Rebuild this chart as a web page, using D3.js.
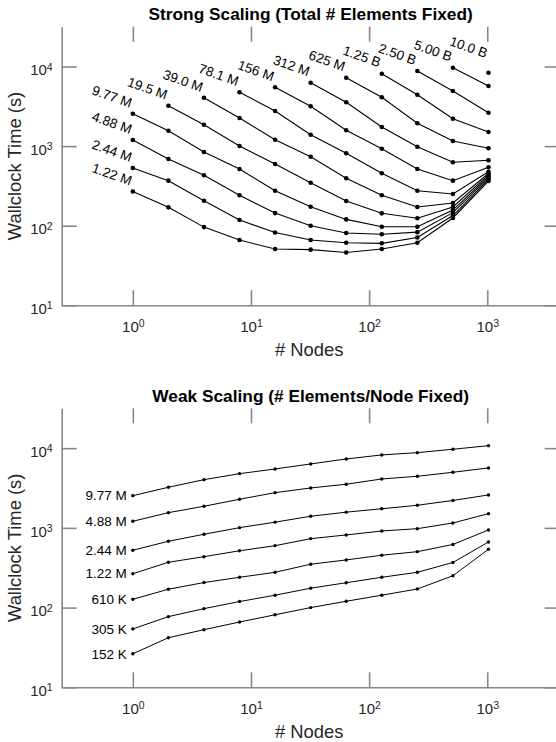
<!DOCTYPE html>
<html>
<head>
<meta charset="utf-8">
<script src="https://cdn.jsdelivr.net/npm/d3@7"></script>
<style>
  html, body { margin: 0; padding: 0; background: #fff; }
  svg { display: block; font-family: "Liberation Sans", Arial, Helvetica, sans-serif; }
</style>
</head>
<body>
<svg id="chart" width="556" height="742"></svg>
<script>
// Node counts shared by both panels
const nodes = [1, 2, 4, 8, 16, 32, 64, 128, 256, 512, 1024];
const xTicks = [1, 10, 100, 1000];
const yTicks = [10, 100, 1000, 10000];

// Strong scaling: total element count, first node count, wallclock seconds from that node count on
const strongLabels = ["1.22 M", "2.44 M", "4.88 M", "9.77 M", "19.5 M", "39.0 M", "78.1 M",
                      "156 M", "312 M", "625 M", "1.25 B", "2.50 B", "5.00 B", "10.0 B"];
const strongStart = [1, 1, 1, 1, 2, 4, 8, 16, 32, 64, 128, 256, 512, 1024];
const strong_1_22M = [269, 170, 96, 66, 51, 50, 46, 51, 61, 125, 364];
const strong_2_44M = [531, 368, 206, 118, 82, 66, 61, 60, 71, 134, 380];
const strong_4_88M = [1194, 689, 430, 241, 144, 100, 81, 78, 83, 146, 397];
const strong_9_77M = [2553, 1561, 843, 516, 275, 173, 120, 97, 97, 157, 415];
const strong_19_5M = [3218, 1857, 1003, 596, 347, 204, 143, 124, 172, 434];
const strong_39_0M = [4055, 2254, 1203, 736, 394, 241, 172, 193, 453];
const strong_78_1M = [4743, 2761, 1390, 812, 455, 275, 250, 477];
const strong_156M = [5478, 3162, 1579, 927, 516, 368, 542];
const strong_312M = [6261, 3548, 1738, 983, 626, 663];
const strong_625M = [7231, 4102, 1933, 1159, 938];
const strong_1_25B = [8120, 4424, 2209, 1503];
const strong_2_50B = [8776, 4921, 2628];
const strong_5_00B = [9660, 5689];
const strong_10_0B = [8358];

// Weak scaling: elements per node, wallclock seconds for every node count
const weakLabels = ["9.77 M", "4.88 M", "2.44 M", "1.22 M", "610 K", "305 K", "152 K"];
const weak_9_77M = [2535, 3230, 4025, 4786, 5483, 6337, 7315, 8222, 8784, 9686, 10746];
const weak_4_88M = [1210, 1552, 1866, 2285, 2765, 3167, 3524, 4108, 4440, 4984, 5645];
const weak_2_44M = [524, 679, 831, 1006, 1180, 1398, 1574, 1737, 1921, 2207, 2588];
const weak_1_22M = [266, 370, 435, 516, 598, 732, 815, 914, 977, 1152, 1507];
const weak_610K = [127, 170, 206, 240, 277, 350, 396, 454, 503, 619, 941];
const weak_305K = [54, 77, 97, 119, 143, 175, 205, 240, 277, 368, 665];
const weak_152K = [26.3, 41.9, 52.8, 65.9, 81.2, 100, 120, 143, 171, 251, 539];

const strongTimes = [strong_1_22M, strong_2_44M, strong_4_88M, strong_9_77M, strong_19_5M,
                     strong_39_0M, strong_78_1M, strong_156M, strong_312M, strong_625M,
                     strong_1_25B, strong_2_50B, strong_5_00B, strong_10_0B];
const weakTimes = [weak_9_77M, weak_4_88M, weak_2_44M, weak_1_22M, weak_610K, weak_305K, weak_152K];

const axisColor = "#878787";
const textColor = "#262626";
const left = 61.7, right = 559.6;   // right edge falls just outside the picture

const svg = d3.select("#chart");

// Build one log-log panel with its axes, returns the scales
function drawPanel(top, bottom, title) {
    const x = d3.scaleLog().domain([0.25, 4096]).range([left, right]);
    const y = d3.scaleLog().domain([10, Math.pow(10, 4.5)]).range([bottom, top]);

    function styleAxis(g) {
        g.attr("font-family", null).attr("font-size", null);
        g.select(".domain").attr("stroke", axisColor).attr("stroke-width", 1.6);
        g.selectAll(".tick line").attr("stroke", axisColor).attr("stroke-width", 1.6);
        g.selectAll(".tick text").attr("fill", textColor).style("font-size", "15px");
    }

    // 10 with a raised exponent
    function powerLabels(g) {
        g.selectAll(".tick text").each(function(d) {
            const t = d3.select(this).text(null);
            t.append("tspan").text("10");
            t.append("tspan").attr("dy", "-0.45em").style("font-size", "10.5px")
                .text(Math.round(Math.log10(d)));
        });
    }

    const gx = svg.append("g")
        .attr("transform", `translate(0,${bottom})`)
        .call(d3.axisBottom(x).tickValues(xTicks).tickSize(-15).tickSizeOuter(0).tickPadding(16));
    styleAxis(gx);
    powerLabels(gx);

    const gy = svg.append("g")
        .attr("transform", `translate(${left},0)`)
        .call(d3.axisLeft(y).tickValues(yTicks).tickSize(-15).tickSizeOuter(0).tickPadding(9));
    styleAxis(gy);
    powerLabels(gy);
    gy.selectAll(".tick text").attr("dy", "0.55em");

    // mirrored ticks on top and right, no spine there
    const gt = svg.append("g")
        .attr("transform", `translate(0,${top})`)
        .call(d3.axisTop(x).tickValues(xTicks).tickSize(-15).tickFormat(""));
    styleAxis(gt);
    gt.select(".domain").remove();

    const gr = svg.append("g")
        .attr("transform", `translate(${right},0)`)
        .call(d3.axisRight(y).tickValues(yTicks).tickSize(-15).tickFormat(""));
    styleAxis(gr);
    gr.select(".domain").remove();

    const cx = (left + right) / 2;
    svg.append("text")
        .attr("x", cx).attr("y", top - 6.5)
        .attr("text-anchor", "middle")
        .style("font-size", "17.3px").style("font-weight", "bold")
        .attr("fill", "#000")
        .text(title);

    svg.append("text")
        .attr("x", cx - 1.5).attr("y", bottom + 51)
        .attr("text-anchor", "middle")
        .style("font-size", "18.4px")
        .attr("fill", textColor)
        .text("# Nodes");

    svg.append("text")
        .attr("transform", `translate(21,${(top + bottom) / 2}) rotate(-90)`)
        .attr("text-anchor", "middle")
        .style("font-size", "18.4px")
        .attr("fill", textColor)
        .text("Wallclock Time (s)");

    return { x, y };
}

function drawSeries(scales, points, lineWidth, radius) {
    const line = d3.line().x(d => scales.x(d.n)).y(d => scales.y(d.t));
    svg.append("path")
        .datum(points)
        .attr("fill", "none")
        .attr("stroke", "#000")
        .attr("stroke-width", lineWidth)
        .attr("d", line);
    svg.append("g").selectAll("circle")
        .data(points)
        .join("circle")
        .attr("cx", d => scales.x(d.n))
        .attr("cy", d => scales.y(d.t))
        .attr("r", radius)
        .attr("fill", "#000");
}

// ---- Strong scaling panel
const strong = drawPanel(26.7, 305.3, "Strong Scaling (Total # Elements Fixed)");
strongTimes.forEach((times, i) => {
    const first = nodes.indexOf(strongStart[i]);
    const pts = times.map((t, j) => ({ n: nodes[first + j], t }));
    drawSeries(strong, pts, 1.1, 2.3);

    // labels sit on the 9.77 M/node weak curve where the series starts
    const anchorT = strongStart[i] === 1 ? times[0] : weak_9_77M[first];
    svg.append("text")
        .attr("transform", `translate(${strong.x(strongStart[i]) - 3},${strong.y(anchorT) - 6}) rotate(19.5)`)
        .attr("text-anchor", "end")
        .style("font-size", "13.5px")
        .attr("fill", "#000")
        .text(strongLabels[i]);
});

// ---- Weak scaling panel
const weak = drawPanel(408.3, 687.3, "Weak Scaling (# Elements/Node Fixed)");
weakTimes.forEach((times, i) => {
    const pts = times.map((t, j) => ({ n: nodes[j], t }));
    drawSeries(weak, pts, 1, 1.7);
    svg.append("text")
        .attr("x", weak.x(nodes[0]) - 6)
        .attr("y", weak.y(times[0]))
        .attr("dy", "0.35em")
        .attr("text-anchor", "end")
        .style("font-size", "13.5px")
        .attr("fill", "#000")
        .text(weakLabels[i]);
});
</script>
</body>
</html>
